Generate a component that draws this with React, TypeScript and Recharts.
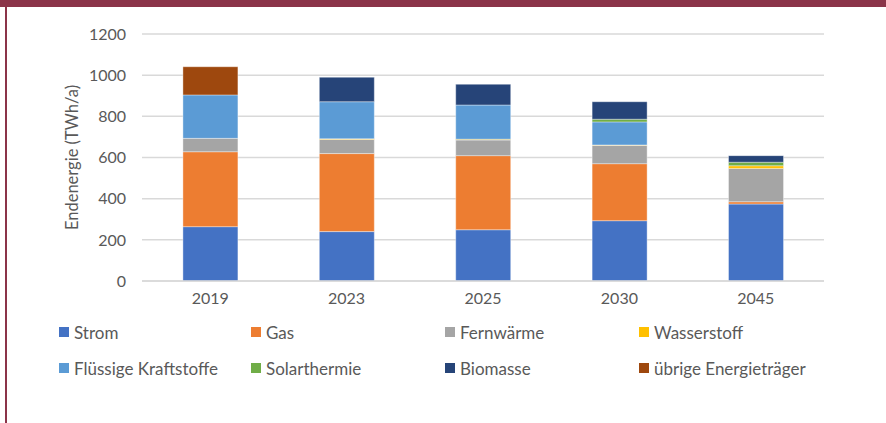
import React from 'react';
import { BarChart, Bar, XAxis, YAxis, CartesianGrid } from 'recharts';

const years = ['2019', '2023', '2025', '2030', '2045'];

const strom = [264, 240, 249, 293, 374];
const gas = [364, 379, 360, 277, 11];
const fernwaerme = [65, 69, 76, 89, 162];
const wasserstoff = [0, 3, 4, 2, 13];
const fluessig = [211, 180, 166, 112, 0];
const solar = [0, 0, 0, 13, 17];
const biomasse = [0, 119, 101, 85, 32];
const uebrige = [137, 0, 0, 0, 0];

const yTicks = [0, 200, 400, 600, 800, 1000, 1200];

const series = [
    { key: 'strom', name: 'Strom', color: '#4472C4', values: strom },
    { key: 'gas', name: 'Gas', color: '#ED7D31', values: gas },
    { key: 'fern', name: 'Fernwärme', color: '#A5A5A5', values: fernwaerme },
    { key: 'h2', name: 'Wasserstoff', color: '#FFC000', values: wasserstoff },
    { key: 'fl', name: 'Flüssige Kraftstoffe', color: '#5B9BD5', values: fluessig },
    { key: 'solar', name: 'Solarthermie', color: '#70AD47', values: solar },
    { key: 'bio', name: 'Biomasse', color: '#264478', values: biomasse },
    { key: 'rest', name: 'übrige Energieträger', color: '#9E480E', values: uebrige },
];

const data = years.map((year, i) => {
    const row: Record<string, string | number> = { year };
    series.forEach(s => { row[s.key] = s.values[i]; });
    return row;
});

const font = 'Lato, "Open Sans", sans-serif';
const grey = '#595959';
const legendCols = [59, 251, 445, 639];
const legendRows = [332, 368];

export default function App() {
    return (
        <div style={{ position: 'absolute', left: 0, top: 0, width: 886, height: 423, background: '#fff', overflow: 'hidden', fontFamily: font }}>
            {/* maroon frame */}
            <div style={{ position: 'absolute', left: 0, top: 0, width: 886, height: 7, background: '#8B3449' }} />
            <div style={{ position: 'absolute', left: 5, top: 0, width: 2, height: 423, background: '#8B3449' }} />

            <div style={{ position: 'absolute', left: 0, top: 0 }}>
                <BarChart
                    width={886}
                    height={423}
                    data={data}
                    margin={{ top: 34, right: 62, bottom: 112, left: 72 }}
                    barCategoryGap="30%"
                >
                    <CartesianGrid vertical={false} stroke="#d9d9d9" strokeWidth={1.5} />
                    <XAxis
                        dataKey="year"
                        axisLine={{ stroke: '#d9d9d9', strokeWidth: 1.5 }}
                        tickLine={false}
                        tickSize={0}
                        tickMargin={12}
                        height={30}
                        tick={{ fill: grey, fontSize: 16, fontFamily: font }}
                    />
                    <YAxis
                        domain={[0, 1200]}
                        ticks={yTicks}
                        width={70}
                        axisLine={false}
                        tickLine={false}
                        tickSize={0}
                        tickMargin={16}
                        tick={{ fill: grey, fontSize: 16, fontFamily: font }}
                        label={{
                            value: 'Endenergie (TWh/a)',
                            angle: -90,
                            position: 'insideLeft',
                            offset: 0,
                            style: { textAnchor: 'middle', fill: grey, fontSize: 16.5, fontFamily: font },
                        }}
                    />
                    {series.map(s => (
                        <Bar
                            key={s.key}
                            dataKey={s.key}
                            name={s.name}
                            stackId="a"
                            fill={s.color}
                            stroke="#ffffff"
                            strokeOpacity={0.5}
                            strokeWidth={0.75}
                            isAnimationActive={false}
                        />
                    ))}
                </BarChart>
            </div>

            {series.map((s, i) => {
                const col = i % 4;
                const row = Math.floor(i / 4);
                return (
                    <div
                        key={s.key}
                        style={{
                            position: 'absolute',
                            left: legendCols[col],
                            top: legendRows[row] - 10,
                            height: 20,
                            display: 'flex',
                            alignItems: 'center',
                            whiteSpace: 'nowrap',
                        }}
                    >
                        <span style={{ display: 'inline-block', width: 10, height: 10, background: s.color, marginRight: 5 }} />
                        <span style={{ color: grey, fontSize: 17 }}>{s.name}</span>
                    </div>
                );
            })}
        </div>
    );
}
